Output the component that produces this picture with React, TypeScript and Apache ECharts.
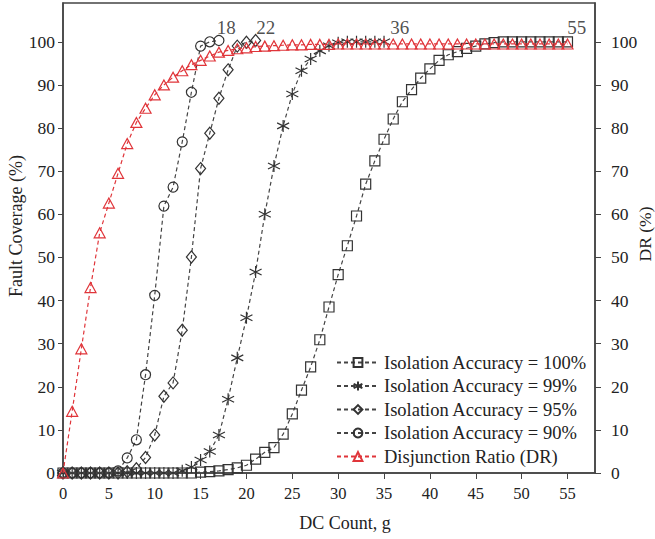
import React, { useEffect, useRef } from "react";
import * as echarts from "echarts";

// ---- data (x = DC count g, starting at 0) ----
const acc100: number[] = [
  0, 0, 0, 0, 0, 0, 0, 0, 0, 0, 0, 0, 0, 0, 0, 0.2, 0.3, 0.5, 0.8, 1.2,
  1.8, 3.2, 4.8, 5.9, 9, 13.7, 19.2, 24.6, 30.9, 38.5, 46, 52.7, 59.6, 67, 72.4, 77.4,
  82.1, 86.1, 88.9, 91.6, 93.7, 95.7, 97, 97.7, 98.5, 99, 99.5, 99.8, 100, 100,
  100, 100, 100, 100, 100, 100,
];
const acc99: number[] = [
  0, 0, 0, 0, 0, 0, 0, 0, 0, 0, 0, 0, 0, 0.5, 1.4, 3, 5, 8.8, 17.1, 26.7,
  36, 46.6, 60, 71.2, 80.5, 87.9, 93.3, 96, 97.9, 99.1, 99.8, 100, 100, 100, 100, 100,
];
const acc95: number[] = [
  0, 0, 0, 0, 0, 0, 0, 0.3, 1, 3.6, 8.8, 17.8, 20.9, 33.1, 50.1, 70.6, 78.8, 86.9,
  93.5, 99, 99.9, 100.3,
];
const acc90: number[] = [
  0, 0, 0, 0, 0, 0, 0.5, 3.5, 7.7, 22.8, 41.2, 61.9, 66.3, 76.8, 88.3, 99, 100, 100.3,
];
const dr: number[] = [
  0, 14.3, 28.8, 43, 55.7, 62.6, 69.5, 76.4, 81.3, 84.6, 87.7, 90, 91.8, 93.3, 94.7,
  95.7, 96.7, 97.6, 98, 98.4, 98.6, 98.9, 99, 99.1, 99.2, 99.3, 99.3, 99.4, 99.4, 99.4,
  99.5, 99.5, 99.5, 99.5, 99.5, 99.5, 99.5, 99.5, 99.5, 99.5, 99.5, 99.5, 99.5, 99.5,
  99.5, 99.5, 99.5, 99.5, 99.5, 99.5, 99.5, 99.5, 99.5, 99.5, 99.5, 99.5,
];
const seriesNames: string[] = [
  "Isolation Accuracy = 100%",
  "Isolation Accuracy = 99%",
  "Isolation Accuracy = 95%",
  "Isolation Accuracy = 90%",
  "Disjunction Ratio (DR)",
];
const annText: string[] = ["18", "22", "36", "55"];
const annX: number[] = [17.8, 22.1, 36.7, 56];
const annY: number[] = [103.4, 103.4, 103.4, 103.4];
const xTicks: number[] = [0, 5, 10, 15, 20, 25, 30, 35, 40, 45, 50, 55];
const yTicks: number[] = [0, 10, 20, 30, 40, 50, 60, 70, 80, 90, 100];

const FONT = "Liberation Serif";
const INK = "#222";
const GRAY = "#444";
const RED = "#e0353a";
const STAR = "path://M5,0L5,10M0.67,2.5L9.33,7.5M0.67,7.5L9.33,2.5";

const toPts = (vals: number[]) => vals.map((v, i) => [i, v]);

function lineSeries(name: string, vals: number[], symbol: string, size: any, color: string, z: number) {
  return {
    name,
    type: "line",
    data: toPts(vals),
    symbol,
    symbolSize: size,
    showAllSymbol: true,
    z,
    color,
    lineStyle: { type: [4, 3], width: 1.2, color },
    itemStyle: { color: "rgba(255,255,255,0)", borderColor: color === RED ? RED : "#333", borderWidth: 1.2 },
    emphasis: { disabled: true },
  };
}

export default function App() {
  const ref = useRef<HTMLDivElement>(null);
  useEffect(() => {
    if (!ref.current) return;
    document.body.style.margin = "0";
    const chart = echarts.init(ref.current, null, { renderer: "svg" });
    const axisCommon = {
      type: "value",
      axisLine: { show: true, lineStyle: { color: GRAY, width: 1.5 } },
      splitLine: { show: false },
    };
    chart.setOption({
      animation: false,
      backgroundColor: "#fff",
      textStyle: { fontFamily: FONT, color: INK },
      grid: {
        left: 63, right: 60, top: 3, bottom: 66,
        show: true, borderColor: GRAY, borderWidth: 1.5, backgroundColor: "transparent",
      },
      xAxis: {
        ...axisCommon,
        min: 0, max: 58, interval: 5,
        axisTick: { show: true, length: 6, customValues: xTicks, lineStyle: { color: GRAY } },
        axisLabel: { customValues: xTicks, fontSize: 16.5, color: INK, fontFamily: FONT, margin: 12 },
      },
      yAxis: [
        {
          ...axisCommon,
          position: "left",
          min: 0, max: 109, interval: 10,
          axisTick: { show: true, length: 5, customValues: yTicks, lineStyle: { color: GRAY } },
          axisLabel: { customValues: yTicks, fontSize: 17.5, color: INK, fontFamily: FONT, margin: 8 },
        },
        {
          ...axisCommon,
          position: "right",
          min: 0, max: 109, interval: 10,
          axisTick: { show: true, length: 6, customValues: yTicks, lineStyle: { color: GRAY } },
          axisLabel: { customValues: yTicks, fontSize: 17.5, color: INK, fontFamily: FONT, margin: 16 },
        },
      ],
      legend: {
        data: seriesNames,
        orient: "vertical",
        left: 336,
        top: 353,
        padding: 0,
        itemWidth: 42,
        itemHeight: 11,
        itemGap: 4.5,
        selectedMode: false,
        textStyle: { fontFamily: FONT, fontSize: 18.5, color: INK, lineHeight: 18 },
      },
      graphic: [
        {
          type: "text", x: 345, y: 523,
          style: { text: "DC Count, g", font: `18px "${FONT}"`, fill: INK, align: "center", verticalAlign: "middle" },
        },
        {
          type: "text", x: 16, y: 226, rotation: Math.PI / 2,
          style: { text: "Fault Coverage (%)", font: `18px "${FONT}"`, fill: INK, align: "center", verticalAlign: "middle" },
        },
        {
          type: "text", x: 645, y: 234, rotation: Math.PI / 2,
          style: { text: "DR (%)", font: `17.5px "${FONT}"`, fill: INK, align: "center", verticalAlign: "middle" },
        },
      ],
      series: [
        lineSeries(seriesNames[0], acc100, "rect", 10, GRAY, 2),
        lineSeries(seriesNames[1], acc99, STAR, 12, GRAY, 3),
        lineSeries(seriesNames[2], acc95, "diamond", [10, 12], GRAY, 4),
        lineSeries(seriesNames[3], acc90, "circle", 10, GRAY, 5),
        lineSeries(seriesNames[4], dr, "triangle", [11, 10], RED, 6),
        {
          name: "annotations",
          type: "scatter",
          silent: true,
          symbolSize: 0,
          z: 7,
          data: annX.map((x, i) => [x, annY[i], annText[i]]),
          label: {
            show: true,
            position: "inside",
            formatter: (p: any) => p.data[2],
            fontFamily: FONT,
            fontSize: 19,
            color: INK,
          },
        },
      ],
    });
    return () => chart.dispose();
  }, []);
  return <div ref={ref} style={{ width: 655, height: 539 }} />;
}
